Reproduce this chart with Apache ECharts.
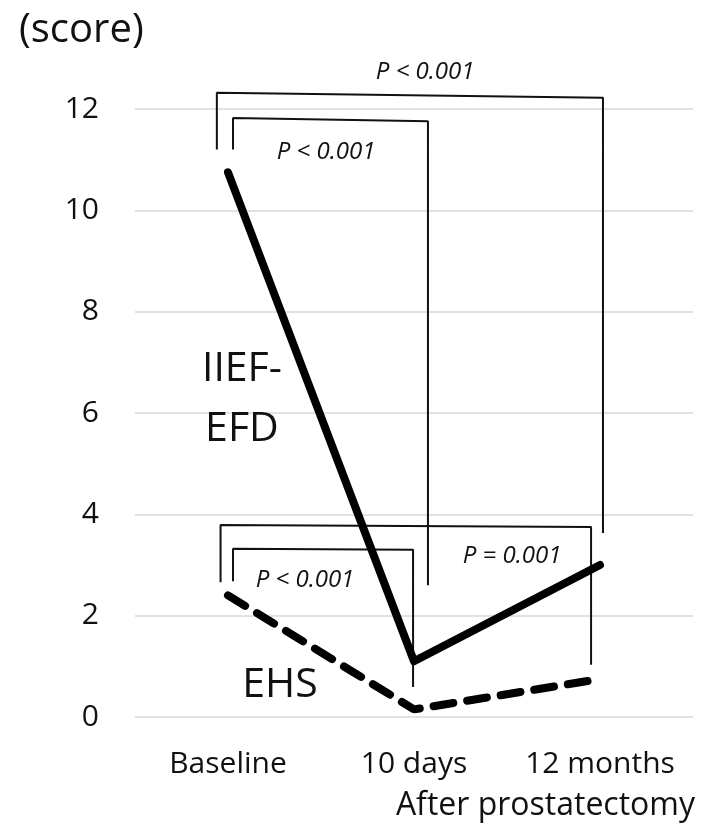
<!DOCTYPE html>
<html>
<head>
<meta charset="utf-8">
<script src="https://cdn.jsdelivr.net/npm/echarts@6/dist/echarts.min.js"></script>
<style>
  html, body { margin: 0; padding: 0; background: #fff; }
  #chart { width: 701px; height: 831px; }
</style>
</head>
<body>
<div id="chart"></div>
<script>
const categories = ['Baseline', '10 days', '12 months']
const iiefEfd = [10.75, 1.1, 3.0]
const ehs = [2.4, 0.15, 0.75]
const yTicks = [0, 2, 4, 6, 8, 10, 12]

// significance brackets, [x, y] in (category index, score)
const bracketTopOuter = [[-0.06, 11.2], [-0.06, 12.32], [2.016, 12.22], [2.016, 3.63]]
const bracketTopInner = [[0.027, 11.2], [0.027, 11.82], [1.075, 11.76], [1.075, 2.6]]
const bracketLowOuter = [[-0.04, 2.66], [-0.04, 3.79], [1.952, 3.75], [1.952, 1.03]]
const bracketLowInner = [[0.027, 2.68], [0.027, 3.32], [0.995, 3.3], [0.995, 0.59]]

// annotation texts: [x, y, text]
const pLabels = [
  [1.06, 12.73, 'P < 0.001'],
  [0.527, 11.15, 'P < 0.001'],
  [0.414, 2.7, 'P < 0.001'],
  [1.527, 3.18, 'P = 0.001']
]
const seriesLabels = [
  [0.075, 6.26, 'IIEF-\nEFD'],
  [0.28, 0.62, 'EHS']
]

const FONT = '"Open Sans", Lato, sans-serif'

const chart = echarts.init(document.getElementById('chart'))

function bracket (data) {
  return {
    type: 'line',
    xAxisIndex: 1,
    data: data,
    symbol: 'none',
    silent: true,
    clip: false,
    z: 1,
    lineStyle: { color: '#111', width: 2 }
  }
}

function textSeries (data, size, lineHeight, italic) {
  return {
    type: 'scatter',
    xAxisIndex: 1,
    data: data,
    symbolSize: 0,
    silent: true,
    clip: false,
    z: 5,
    itemStyle: { opacity: 1 },
    label: {
      show: true,
      position: 'inside',
      formatter: p => p.data[2],
      fontFamily: FONT,
      fontSize: size,
      fontStyle: italic ? 'italic' : 'normal',
      lineHeight: lineHeight,
      color: '#111',
      opacity: 1
    }
  }
}

const option = {
  animation: false,
  grid: { left: 135, right: 8, top: 109, bottom: 114 },
  xAxis: [
    {
      type: 'category',
      data: categories,
      axisLine: { show: false },
      axisTick: { show: false },
      axisLabel: { interval: 0, hideOverlap: false, fontFamily: FONT, fontSize: 30, color: '#111', margin: 32 }
    },
    { type: 'value', min: -0.5, max: 2.5, show: false }
  ],
  yAxis: {
    type: 'value',
    min: yTicks[0],
    max: yTicks[yTicks.length - 1],
    interval: 2,
    axisLine: { show: false },
    axisTick: { show: false },
    splitLine: { lineStyle: { color: '#d9d9d9', width: 1.5 } },
    axisLabel: { fontFamily: FONT, fontSize: 30, color: '#111', margin: 36 }
  },
  graphic: [
    {
      type: 'text', left: 19, top: 11,
      style: { text: '(score)', font: '40px ' + FONT, fill: '#111' }
    },
    {
      type: 'text', right: 6, top: 790,
      style: { text: 'After prostatectomy', font: '32px ' + FONT, fill: '#111' }
    }
  ],
  series: [
    bracket(bracketTopOuter),
    bracket(bracketTopInner),
    bracket(bracketLowOuter),
    bracket(bracketLowInner),
    {
      name: 'IIEF-EFD',
      type: 'line',
      data: iiefEfd,
      symbol: 'none',
      z: 3,
      lineStyle: { color: '#000', width: 8, join: 'round', cap: 'round' }
    },
    {
      name: 'EHS',
      type: 'line',
      data: ehs,
      symbol: 'none',
      z: 3,
      lineStyle: { color: '#000', width: 8, type: [20, 14], cap: 'round' }
    },
    textSeries(pLabels, 24, 30, true),
    textSeries(seriesLabels, 41, 60, false)
  ]
}

chart.setOption(option)
</script>
</body>
</html>
